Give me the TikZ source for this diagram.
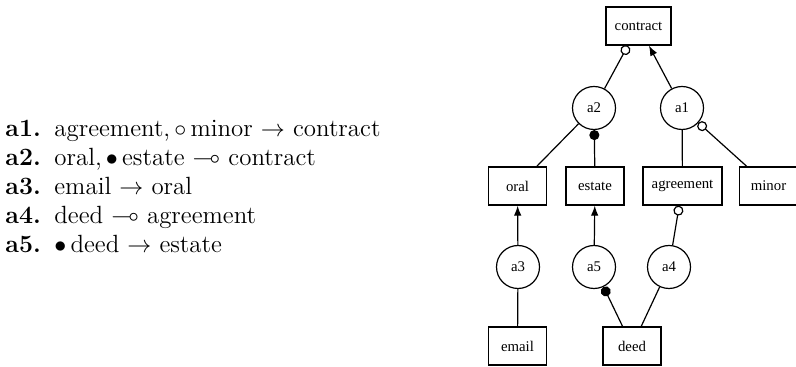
\documentclass[tikz,border=0pt]{standalone}
\usepackage{amssymb}
\usepackage{fontspec}
\newfontfamily\diafont{Liberation Serif}
\usetikzlibrary{arrows.meta}

\begin{document}
\begin{tikzpicture}[
        x=0.5pt, y=-0.5pt,
        prop/.style={draw, line width=0.7pt, minimum width=29pt, minimum height=19pt, inner xsep=4.3pt, font=\diafont\fontsize{7.4}{9}\selectfont},
        argnode/.style={draw, circle, line width=0.6pt, minimum size=21.5pt, inner sep=0pt, font=\diafont\fontsize{7.4}{9}\selectfont},
        rule/.style={anchor=base west, inner sep=0pt, font=\fontsize{12.45}{15}\selectfont},
        link/.style={line width=0.6pt},
        pro/.style={link, -{Latex[length=5pt, width=3.8pt]}},
        con/.style={link, -{Circle[open, length=5pt]}},
        neg/.style={link, -{Circle[length=5pt]}}
    ]
    \useasboundingbox (0,0) rectangle (796,367);

    % --- Rules ---
    \node[rule] (r1) at (5,137) {\makebox[24.5pt][l]{\bfseries a1.}agreement,\,$\circ$\,minor $\rightarrow$ contract};
    \node[rule] (r2) at (5,166) {\makebox[24.5pt][l]{\bfseries a2.}oral,\,$\bullet$\,estate $\multimap$ contract};
    \node[rule] (r3) at (5,195) {\makebox[24.5pt][l]{\bfseries a3.}email $\rightarrow$ oral};
    \node[rule] (r4) at (5,224) {\makebox[24.5pt][l]{\bfseries a4.}deed $\multimap$ agreement};
    \node[rule] (r5) at (5,253) {\makebox[24.5pt][l]{\bfseries a5.}$\bullet$\,deed $\rightarrow$ estate};

    % --- Propositions ---
    \node[prop] (contract) at (638.5,26) {contract};
    \node[prop] (oral) at (517.5,186) {oral};
    \node[prop] (estate) at (595,186) {estate};
    \node[prop] (agreement) at (682.5,186) {agreement};
    \node[prop] (minor) at (768.5,186) {minor};
    \node[prop] (email) at (517.5,346) {email};
    \node[prop] (deed) at (632,346) {deed};

    % --- Arguments ---
    \node[argnode] (a2) at (594,108) {a2};
    \node[argnode] (a1) at (682,108) {a1};
    \node[argnode] (a3) at (518,267) {a3};
    \node[argnode] (a5) at (594,267) {a5};
    \node[argnode] (a4) at (669,267) {a4};

    % --- Connections ---
    \draw[con] (a2) -- (contract);
    \draw[pro] (a1) -- (contract);
    \draw[link] (oral) -- (a2);
    \draw[neg] (estate) -- (a2);
    \draw[link] (agreement) -- (a1);
    \draw[con] (minor) -- (a1);
    \draw[pro] (a3) -- (oral);
    \draw[link] (email) -- (a3);
    \draw[pro] (a5) -- (estate);
    \draw[neg] (deed) -- (a5);
    \draw[link] (deed) -- (a4);
    \draw[con] (a4) -- (agreement);

\end{tikzpicture}
\end{document}
